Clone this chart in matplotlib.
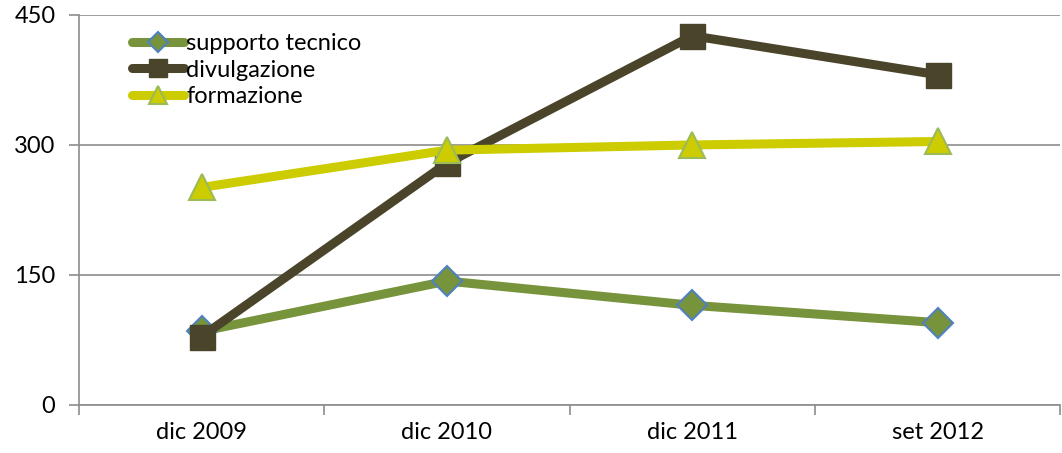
import numpy as np
import matplotlib.pyplot as plt

# data
periodi = ['dic 2009', 'dic 2010', 'dic 2011', 'set 2012']
supporto = [85, 143, 115, 95]
divulgazione = [79, 279, 426, 381]
formazione = [251, 294, 300, 304]

plt.rcParams['font.family'] = ['Lato', 'DejaVu Sans']
plt.rcParams['font.size'] = 17

grid_col = '#8c8c8c'
lw = 6.5
x = np.arange(len(periodi))

fig = plt.figure(figsize=(10.62, 4.53), dpi=100)
ax = fig.add_axes([0.0744, 0.106, 0.924, 0.861])

ax.plot(x, supporto, color='#77933C', lw=lw, marker='D', ms=15,
        markerfacecolor='#77933C', markeredgecolor='#4F81BD', mew=1.5,
        solid_capstyle='round', label='supporto tecnico', zorder=3)
ax.plot(x, divulgazione, color='#4A452A', lw=lw, marker='s', ms=18,
        markerfacecolor='#4A452A', markeredgecolor='#4A452A',
        solid_capstyle='round', label='divulgazione', zorder=4)
ax.plot(x, formazione, color='#CCCC00', lw=lw, marker='^', ms=19,
        markerfacecolor='#CCCC00', markeredgecolor='#9BBB59', mew=1.5,
        solid_capstyle='round', label='formazione', zorder=5)

ax.set_xlim(-0.5, len(periodi) - 0.5)
ax.set_ylim(0, 450)
ax.set_yticks([0, 150, 300, 450])
ax.set_xticks(x)
ax.set_xticklabels(periodi)
ax.set_xticks(np.arange(-0.5, len(periodi)), minor=True)
ax.tick_params(axis='x', which='major', length=0, pad=12)
ax.tick_params(axis='x', which='minor', length=7, color=grid_col, width=1.2)
ax.tick_params(axis='y', length=7, color=grid_col, width=1.2, pad=10)
ax.yaxis.grid(True, color=grid_col, lw=1.2)
ax.set_axisbelow(True)

for s in ['top', 'right']:
    ax.spines[s].set_visible(False)
for s in ['left', 'bottom']:
    ax.spines[s].set_color(grid_col)
    ax.spines[s].set_linewidth(1.2)

ax.legend(loc='upper left', bbox_to_anchor=(0.037, 0.995), frameon=False,
          handlelength=2.2, handletextpad=0.1, labelspacing=0.22,
          borderpad=0.2, markerscale=0.7)

fig.savefig('out.png', dpi=100)
